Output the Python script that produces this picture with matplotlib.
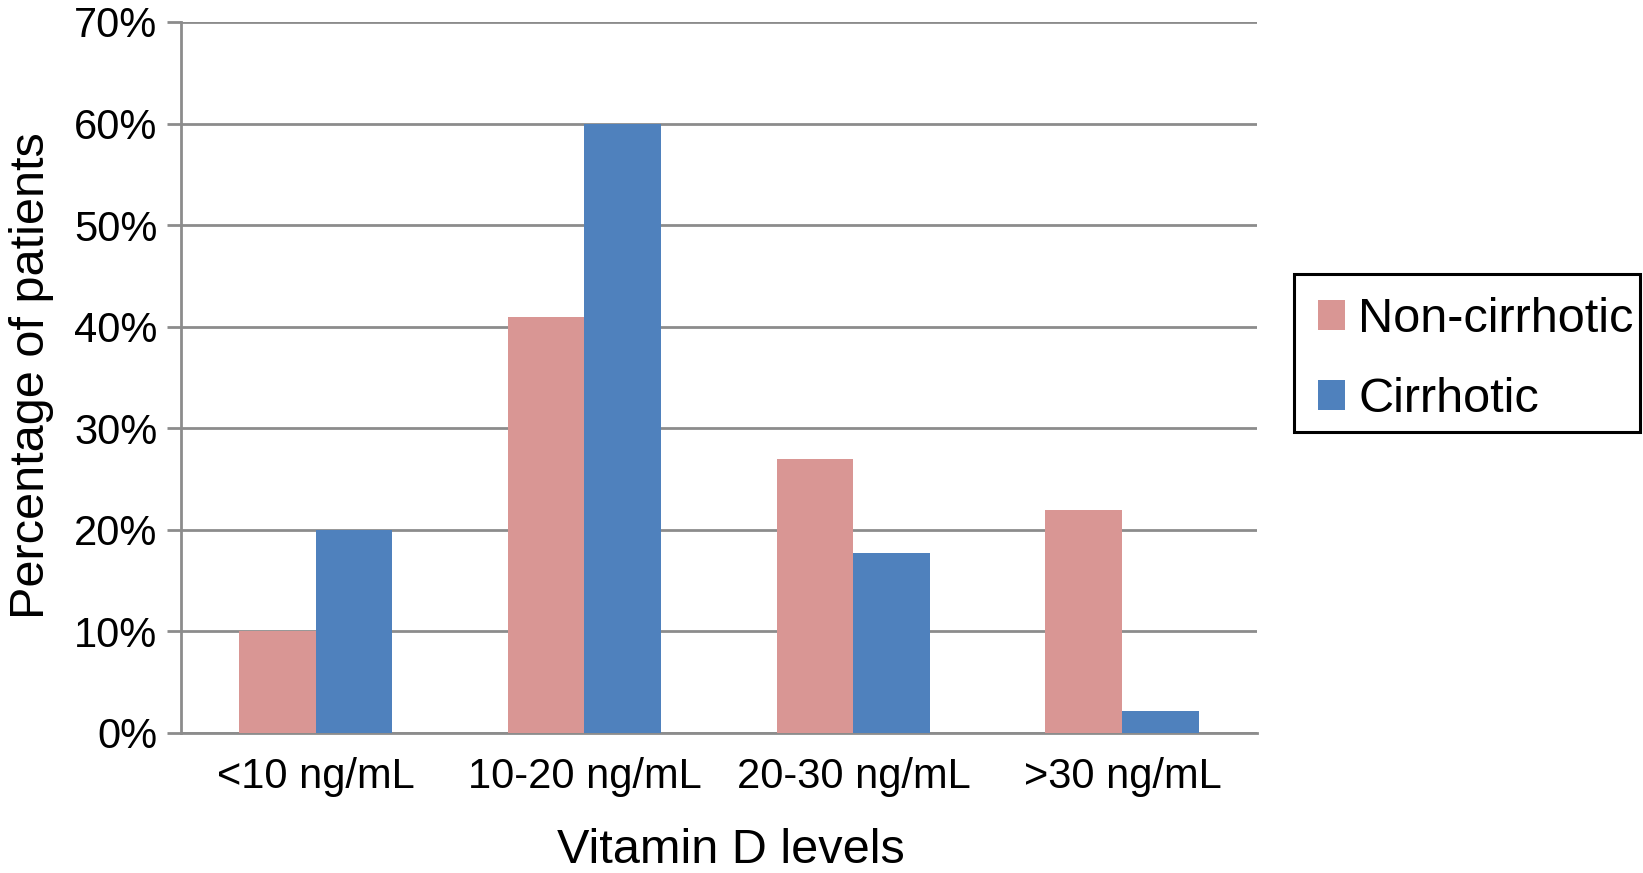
import numpy as np
import matplotlib
matplotlib.use("Agg")
import matplotlib.pyplot as plt
from matplotlib.patches import Rectangle

plt.rcParams['font.family'] = ['Liberation Sans', 'DejaVu Sans']

# values (percent of patients)
categories = ['<10 ng/mL', '10-20 ng/mL', '20-30 ng/mL', '>30 ng/mL']
non_cirrhotic = [10, 41, 27, 22]
cirrhotic = [20, 60, 17.7, 2.2]
series_names = ['Non-cirrhotic', 'Cirrhotic']
yticks = [0, 10, 20, 30, 40, 50, 60, 70]

pink = '#D99694'
blue = '#4F81BD'
grey = '#8C8C8C'

W, H = 1643, 873
fig = plt.figure(figsize=(W / 100, H / 100), dpi=100)
ax = fig.add_axes([0.1102, 0.1604, 0.765 - 0.1102, 0.9748 - 0.1604])

x = np.arange(len(categories))
w = 0.286
ax.bar(x - w, non_cirrhotic, width=w, align='edge', color=pink, label=series_names[0], zorder=3)
ax.bar(x, cirrhotic, width=w, align='edge', color=blue, label=series_names[1], zorder=3)

ax.set_xlim(-0.5, len(categories) - 0.5)
ax.set_ylim(0, 70)
ax.set_yticks(yticks)
ax.set_yticklabels(['%d%%' % t for t in yticks])
ax.set_xticks(x)
ax.set_xticklabels(categories)

ax.yaxis.grid(True, color=grey, linewidth=2, zorder=0)
ax.set_axisbelow(True)
for s in ['top', 'right']:
    ax.spines[s].set_visible(False)
for s in ['left', 'bottom']:
    ax.spines[s].set_color(grey)
    ax.spines[s].set_linewidth(2)

ax.tick_params(axis='y', direction='out', length=10, width=2, color=grey, pad=7, labelsize=30)
ax.tick_params(axis='x', length=0, pad=17, labelsize=30)

fig.text(0.0189, 0.570, 'Percentage of patients', rotation=90, ha='center', va='center', fontsize=35)
fig.text(0.445, 0.0115, 'Vitamin D levels', ha='center', va='baseline', fontsize=35)

# legend without its own frame, box drawn separately (Excel style padding)
leg = ax.legend(loc='upper left', bbox_to_anchor=(1318 / W, 1 - 297 / H),
                bbox_transform=fig.transFigure, borderaxespad=0, fontsize=35,
                handlelength=0.556, handleheight=0.556, handletextpad=0.27,
                labelspacing=0.72, borderpad=0, frameon=False)
fig.add_artist(Rectangle((1294 / W, 1 - 432 / H), 346 / W, 158 / H,
                         transform=fig.transFigure, fill=False,
                         edgecolor='black', linewidth=2.2))

fig.savefig('out.png', dpi=100)
